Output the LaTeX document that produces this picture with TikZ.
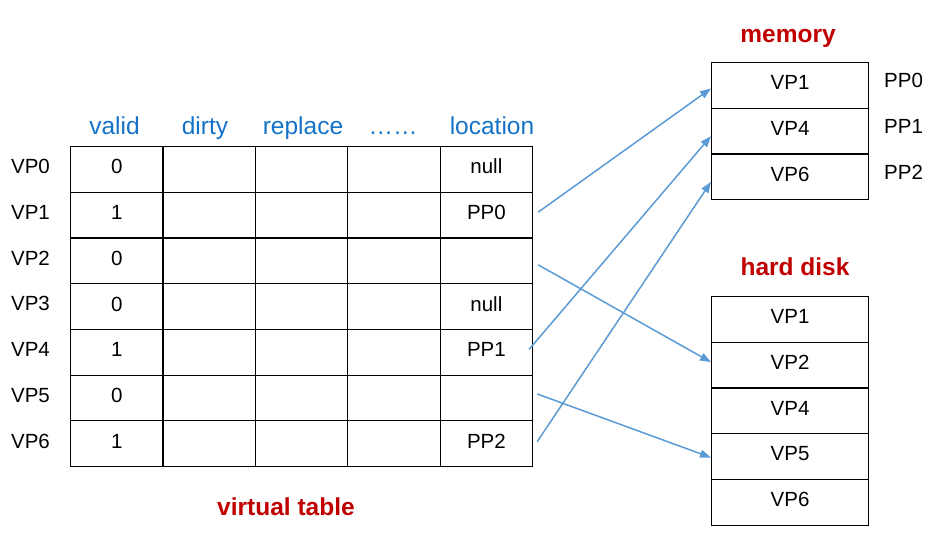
\documentclass[tikz,border=0pt]{standalone}
\usepackage{fontspec}
\setmainfont{Liberation Sans}
\usetikzlibrary{arrows.meta}
\definecolor{hdrblue}{RGB}{20,115,200}
\definecolor{ttlred}{RGB}{192,0,0}
\definecolor{arrblue}{RGB}{91,155,213}
\tikzset{
  cell/.style={draw=black,line width=1.2pt,minimum width=92.4pt,minimum height=45.7pt,inner sep=0pt,anchor=north west,font=\fontsize{20.5}{24}\selectfont,text height=15pt,text depth=6pt},
  mcell/.style={draw=black,line width=1.2pt,minimum width=157pt,minimum height=45.7pt,inner sep=0pt,anchor=north west,font=\fontsize{20.5}{24}\selectfont,text height=15pt,text depth=6.5pt},
  hdr/.style={text=hdrblue,font=\fontsize{24.5}{28}\selectfont,inner sep=0pt,anchor=base},
  lbl/.style={font=\fontsize{20.5}{24}\selectfont,inner sep=0pt},
  ttl/.style={text=ttlred,font=\bfseries\fontsize{24.5}{28}\selectfont,inner sep=0pt},
  conn/.style={draw=arrblue,line width=1.5pt,-{Triangle[length=11pt,width=8pt]}}
}
\begin{document}
\begin{tikzpicture}[x=1pt,y=-1pt]
\useasboundingbox (0,0) rectangle (948,540);
% headers
\foreach \t/\x [count=\j from 0] in {valid/114.5,dirty/205,replace/303,……/393,location/492}
  \node[hdr] (h\j) at (\x,134.5) {\t};
% table cells
\foreach \i/\v/\l in {0/0/null,1/1/PP0,2/0/,3/0/null,4/1/PP1,5/0/,6/1/PP2}{
  \node[cell] (c\i-0) at (70,146+45.7*\i) {\v};
  \foreach \j in {1,2,3}{
    \node[cell] (c\i-\j) at (70+92.4*\j,146+45.7*\i) {};
  }
  \node[cell] (c\i-4) at (70+92.4*4,146+45.7*\i) {\l};
  \node[lbl] (v\i) at (30.5,166.8+45.7*\i) {VP\i};
}
\node[ttl] (vt) at (286,507) {virtual table};
% memory
\node[ttl] (memt) at (788,38) {memory};
\foreach \t [count=\i from 0] in {VP1,VP4,VP6}
  \node[mcell] (m\i) at (711,62+45.7*\i) {\t};
\foreach \i in {0,1,2}
  \node[lbl,anchor=west] (pp\i) at (884,80.5+46*\i) {PP\i};
% hard disk
\node[ttl] (hdt) at (795,267) {hard disk};
\foreach \t [count=\i from 0] in {VP1,VP2,VP4,VP5,VP6}
  \node[mcell] (d\i) at (711,296+45.7*\i) {\t};
% connectors
\coordinate (s1) at ([xshift=5pt,yshift=3pt]c1-4.east);
\coordinate (s2) at ([xshift=5pt,yshift=-4pt]c2-4.east);
\coordinate (s4) at ([xshift=-4pt,yshift=3pt]c4-4.east);
\coordinate (s5) at ([xshift=4pt,yshift=4pt]c5-4.east);
\coordinate (s6) at ([xshift=4pt,yshift=2pt]c6-4.east);
\draw[conn] (s1) -- ([yshift=-3pt]m0.west);
\draw[conn] (s2) -- ([yshift=3pt]d1.west);
\draw[conn] (s4) -- ([yshift=-5pt]m1.west);
\draw[conn] (s5) -- ([yshift=-1pt]d3.west);
\draw[conn] (s6) -- ([yshift=-5pt]m2.west);
\end{tikzpicture}
\end{document}
